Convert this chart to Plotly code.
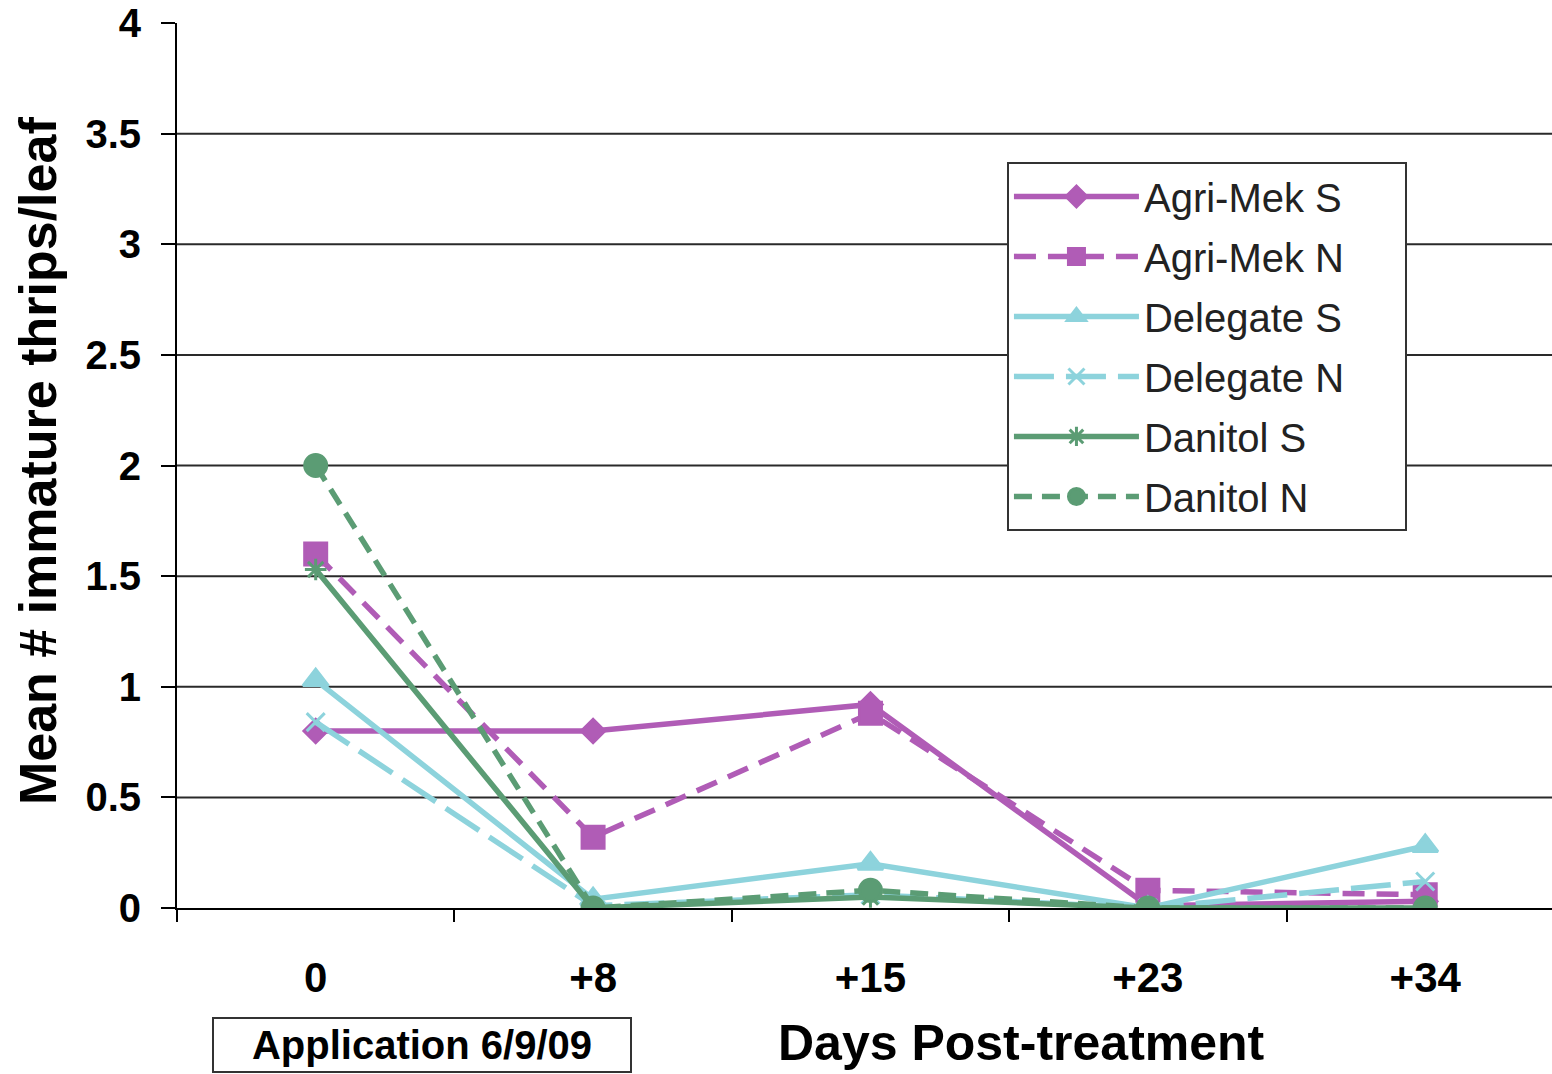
import plotly.graph_objects as go

# ---- data ----
days = ["0", "+8", "+15", "+23", "+34"]
agri_mek_s = [0.80, 0.80, 0.92, 0.01, 0.03]
agri_mek_n = [1.60, 0.32, 0.88, 0.08, 0.06]
delegate_s = [1.03, 0.04, 0.20, 0.00, 0.28]
delegate_n = [0.84, 0.01, 0.06, 0.00, 0.12]
danitol_s = [1.53, 0.00, 0.05, 0.00, 0.00]
danitol_n = [2.00, 0.00, 0.08, 0.00, 0.00]
y_ticks = [0, 0.5, 1, 1.5, 2, 2.5, 3, 3.5, 4]
y_tick_text = ["0", "0.5", "1", "1.5", "2", "2.5", "3", "3.5", "4"]

PURPLE = "#B05CB6"
BLUE = "#8DD3DC"
GREEN = "#5B9C74"
FONT = "Liberation Sans, Arial, sans-serif"

series = [
    ("Agri-Mek S", agri_mek_s, PURPLE, "solid", "diamond", 18),
    ("Agri-Mek N", agri_mek_n, PURPLE, "22px,12px", "square", 22),
    ("Delegate S", delegate_s, BLUE, "solid", "triangle-up", 22),
    ("Delegate N", delegate_n, BLUE, "40px,12px", "x-thin-open", 18),
    ("Danitol S", danitol_s, GREEN, "solid", "asterisk-open", 18),
    ("Danitol N", danitol_n, GREEN, "18px,10px", "circle", 22),
]

PAD = "\u00a0" * 5

fig = go.Figure()
for i, (name, vals, col, dash, sym, sz) in enumerate(series):
    fig.add_trace(go.Scatter(
        x=days, y=vals, name=name + PAD, mode="lines+markers",
        legendgroup=f"g{i}",
        line=dict(color=col, width=5.5, dash=dash),
        marker=dict(symbol=sym, size=sz, color=col, line=dict(color=col, width=3)),
    ))

# horizontal grid lines (excluding the top value)
for v in y_ticks[1:-1]:
    fig.add_shape(type="line", xref="paper", yref="y", x0=0, x1=1, y0=v, y1=v,
                  line=dict(color="#2a2a2a", width=2), layer="below")

fig.update_layout(
    width=1552, height=1074,
    margin=dict(l=177, r=0, t=23, b=166),
    paper_bgcolor="white", plot_bgcolor="white",
    font=dict(family=FONT, color="black"),
    showlegend=True,
    legend=dict(
        x=0.6036, y=0.843, xanchor="left", yanchor="top",
        bgcolor="white", bordercolor="#333333", borderwidth=2,
        font=dict(family=FONT, size=40, color="#222222"),
        itemwidth=125, tracegroupgap=5, itemsizing="trace",
    ),
)

fig.update_xaxes(
    type="category", categoryorder="array", categoryarray=days,
    range=[-0.5, 4.457],
    showline=True, linecolor="black", linewidth=2,
    ticks="outside", tickson="boundaries", ticklen=12, tickwidth=2, tickcolor="black",
    showgrid=False, zeroline=False,
    tickfont=dict(family=FONT, size=42, color="black", weight="bold"),
    ticklabelstandoff=32,
)
fig.update_yaxes(
    range=[0, 4], tickvals=y_ticks, ticktext=y_tick_text,
    showline=True, linecolor="black", linewidth=2,
    ticks="outside", ticklen=14, tickwidth=2, tickcolor="black",
    showgrid=False, zeroline=False,
    tickfont=dict(family=FONT, size=40, color="black", weight="bold"),
    ticklabelstandoff=12,
)

fig.add_annotation(
    text="Mean # immature thrips/leaf", textangle=-90,
    xref="paper", yref="paper", x=-0.1011, y=0.505,
    xanchor="center", yanchor="middle", showarrow=False,
    font=dict(family=FONT, size=52, color="black", weight="bold"),
)
fig.add_annotation(
    text="Days Post-treatment",
    xref="paper", yref="paper", x=0.6145, y=-0.153,
    xanchor="center", yanchor="middle", showarrow=False,
    font=dict(family=FONT, size=50, color="black", weight="bold"),
)
fig.add_annotation(
    text="Application 6/9/09",
    xref="paper", yref="paper", x=0.178, y=-0.1548,
    xanchor="center", yanchor="middle", showarrow=False,
    width=416, height=52, bordercolor="#333333", borderwidth=2, borderpad=0,
    bgcolor="white",
    font=dict(family=FONT, size=40, color="black", weight="bold"),
)

fig.write_html("out.html")
